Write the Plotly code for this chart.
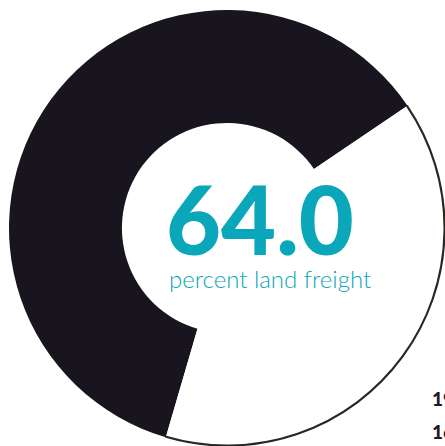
import plotly.graph_objects as go

# Data
segment_labels = ["Land freight", "Other modes"]
segment_shares = [61.0, 39.0]          # angular shares as drawn
segment_colors = ["#18151f", "#ffffff"]
headline_value = "64.0"
headline_caption = "percent land freight"
side_values = ["19", "16"]

DARK = "#18151f"
TEAL = "#0aa6b9"

fig = go.Figure()

# Main donut
fig.add_trace(go.Pie(
    labels=segment_labels,
    values=segment_shares,
    hole=0.482,
    sort=False,
    direction="clockwise",
    rotation=196.3,
    marker=dict(colors=segment_colors, line=dict(width=0)),
    textinfo="none",
    hoverinfo="label+value",
    showlegend=False,
    domain=dict(x=[0, 1], y=[0, 1]),
))

# Thin outline on the outer arc of the light segment
fig.add_trace(go.Pie(
    labels=segment_labels,
    values=segment_shares,
    hole=0.996,
    sort=False,
    direction="clockwise",
    rotation=196.3,
    marker=dict(colors=["rgba(0,0,0,0)", "rgba(0,0,0,0)"],
                line=dict(width=1.3, color=["rgba(0,0,0,0)", "#2a2622"])),
    textinfo="none",
    hoverinfo="skip",
    showlegend=False,
    domain=dict(x=[0, 1], y=[0, 1]),
))

fig.add_annotation(
    text=headline_value, xref="paper", yref="paper",
    x=0.575, y=0.522, xanchor="center", yanchor="middle", showarrow=False,
    font=dict(family="Lato", size=95, color=TEAL, weight=900),
)
fig.add_annotation(
    text=headline_caption, xref="paper", yref="paper",
    x=0.599, y=0.384, xanchor="center", yanchor="middle", showarrow=False,
    font=dict(family="Lato", size=24, color=TEAL, weight=300),
)
for i, (val, yy) in enumerate(zip(side_values, [0.108, 0.034])):
    fig.add_annotation(
        text=val, xref="paper", yref="paper",
        x=0.965, y=yy, xanchor="left", yanchor="middle", showarrow=False,
        font=dict(family="Lato", size=19, color="#1c1a22", weight=900),
    )

fig.update_layout(
    width=445, height=446,
    margin=dict(l=9, r=0, t=10, b=0),
    paper_bgcolor="white", plot_bgcolor="white",
)

fig.write_html("out.html")
